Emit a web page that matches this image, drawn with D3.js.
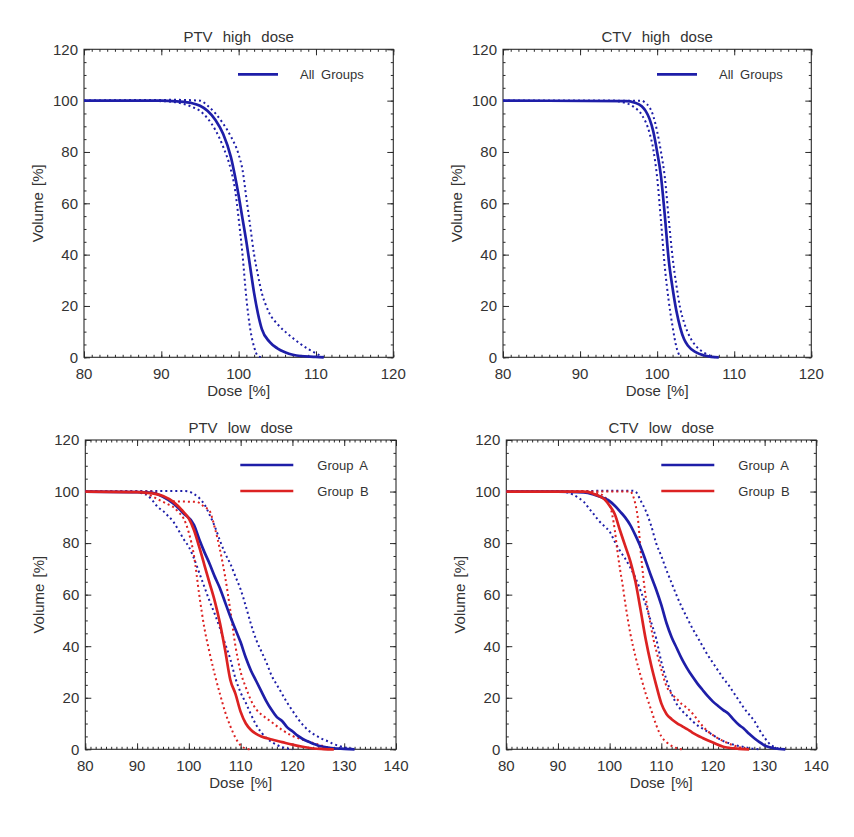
<!DOCTYPE html>
<html>
<head>
<meta charset="utf-8">
<script src="https://cdn.jsdelivr.net/npm/d3@7"></script>
<style>
  html, body { margin: 0; padding: 0; background: #fff; }
  svg { display: block; }
  text { font-family: "Liberation Sans", Arial, sans-serif; fill: #333; }
</style>
</head>
<body>
<svg id="chart" width="854" height="837"></svg>
<script>
// ---------------- DATA (dose %, volume %) ----------------
const panelTitles = ["PTV high dose", "CTV high dose", "PTV low dose", "CTV low dose"];
const seriesNames = ["All Groups", "Group A", "Group B"];
const xTicksHigh = [80, 90, 100, 110, 120];
const xTicksLow = [80, 90, 100, 110, 120, 130, 140];
const yTicks = [0, 20, 40, 60, 80, 100, 120];

// PTV high dose - all groups
const ptvHighMean = [[80,100],[90,100],[92,99.7],[94,99],[95,98],[96,96],[97,92.5],[98,87],[99,78],[99.5,71],[100,63],[100.5,54],[101,45],[101.5,35],[102,25],[102.5,17],[103,11],[104,6],[105,3.5],[106,2],[107,1],[108,0.5],[110,0.2],[111,0]];
const ptvHighUpper = [[80,100],[92,100.3],[95,100],[96,98],[97,95],[98,91],[99,86],[100,79],[100.5,73],[101,62],[101.5,51],[102,40],[102.5,32],[103,25],[103.5,20.5],[104,17],[105,13],[106,10],[107,7.5],[108,5.2],[109,3.2],[110,1.5],[111,0]];
const ptvHighLower = [[80,100],[90,99.8],[92,99.3],[94,97.5],[95,96],[96,93],[97,88.5],[98,82],[99,73],[99.5,66],[100,54],[100.5,40],[101,23],[101.5,11],[102,4],[102.5,0.5],[103,0]];

// CTV high dose - all groups
const ctvHighMean = [[80,100],[96,99.8],[97,99.3],[98,97.8],[98.5,96],[99,93],[99.5,88],[100,80],[100.5,70.5],[101,55],[101.5,38],[102,27],[102.5,18],[103,11.5],[103.5,7],[104,4.5],[105,2],[106,0.8],[107,0.2],[108,0]];
const ctvHighUpper = [[80,100],[98,100],[98.5,99],[99,97.5],[99.5,94],[100,88],[100.5,80],[101,70],[101.5,54],[102,39],[102.5,28],[103,19],[103.5,13.5],[104,9.5],[105,4.5],[106,2],[107,0.5],[107.5,0]];
const ctvHighLower = [[80,100],[94,100],[96,99],[97,97.5],[98,94.5],[99,87.5],[99.5,81],[100,70],[100.5,53],[101,35],[101.5,22],[102,12],[102.5,4],[103,0]];

// PTV low dose - group A
const ptvLowAMean = [[80,100],[90,99.8],[93,99.5],[95,98],[97,95.4],[99,91.5],[101,87],[102,81.5],[103,76.5],[104,72],[105,67],[106,62.5],[107,57],[108,51.5],[109,46.5],[110,41.5],[111,35.5],[112,30.5],[113,26.5],[114,22.5],[115,18.5],[116,15.2],[117,12.5],[118,11],[119,8.5],[120,7],[121,5.3],[122,4],[123,3],[124,2.2],[125,1.4],[126,1],[128,0.4],[130,0.2],[132,0]];
const ptvLowAUpper = [[80,100],[92,100.2],[99,100.2],[100,100],[101,99],[102,97.5],[103,95],[104,91],[105,86.5],[106,81],[107,76],[108,72],[109,67],[110,62],[111,55.5],[112,48.5],[113,42.5],[114,38],[115,33.5],[116,28.5],[117,25],[118,21.5],[119,18],[120,15],[121,12],[122,9.5],[123,7.5],[124,6],[125,4.8],[126,3.8],[127,3],[128,2],[130,0.8],[132,0]];
const ptvLowALower = [[80,100],[90,99.8],[91,99.3],[92,98.5],[93,96.5],[94,94],[95,92.5],[96,90.5],[97,88.3],[98,85],[99,81.5],[100,78.5],[101,74],[102,68.5],[103,63],[104,57.5],[105,52.5],[106,47],[107,41],[108,35],[109,27.5],[110,22],[111,18],[112,13.5],[113,9.5],[114,6.5],[115,4.3],[116,2.8],[117,1.7],[118,0.8],[119,0.3],[120,0]];
// PTV low dose - group B
const ptvLowBMean = [[80,100],[90,99.8],[93,99.3],[95,98.3],[97,96],[99,92],[100,89.5],[101,85],[102,78.5],[103,71.5],[104,64.5],[105,57.5],[106,49],[107,38.5],[108,27],[109,21.5],[110,14.5],[111,10],[112,7.5],[113,6],[114,5],[116,3.8],[118,2.8],[120,1.8],[122,1],[124,0.3],[126,0.1],[128,0]];
const ptvLowBUpper = [[80,100],[93,100],[95,98],[97,96.2],[101.5,96],[103,94],[104,92.5],[105,86],[106,77.5],[107,67],[108,54],[109,40],[110,30],[111,24],[112,19],[113,15.5],[114,13.5],[115,12],[116,10.5],[118,7.5],[120,5.2],[122,3.7],[124,2.5],[126,1.2],[128,0.3],[129,0]];
const ptvLowBLower = [[80,100],[90,99.8],[92,99],[94,97],[96,95],[97,94],[98,92],[99,89.5],[100,84],[101,75],[102,60],[103,47],[104,37.5],[105,29],[106,21.5],[107,14.5],[108,9],[109,4.5],[110,1.5],[111,0.3],[112,0]];

// CTV low dose - group A
const ctvLowAMean = [[80,100],[90,100],[95,99.7],[97,98.8],[99,97.3],[100,96.3],[101,94.5],[102,92.3],[103,90],[104,87],[105,83],[106,78.5],[107,73],[108,67.3],[109,62],[110,56],[111,49],[112,43.5],[113,39.2],[114,35],[115,31.4],[116,28.3],[117,25.5],[118,23],[119,20.6],[120,18.5],[121,16.8],[122,15.2],[123,13.8],[124,11.5],[125,9.5],[126,8],[127,6],[128,4.3],[129,2.8],[130,1.5],[131,0.8],[132,0.3],[134,0]];
const ctvLowAUpper = [[80,100],[104.5,100.3],[105,100],[106,96.5],[107,92.5],[108,87],[109,80],[110,75],[111,69.5],[112,64.5],[113,59.5],[114,55],[115,51],[116,47],[117,43.5],[118,40],[119,36.5],[120,33.5],[121,30.5],[122,27.5],[123,25],[124,22],[125,19],[126,16],[127,13.5],[128,11],[129,7.5],[130,4.5],[131,2],[132,0.8],[133,0]];
const ctvLowALower = [[80,100],[90,100],[92,99.6],[93,98.7],[94,97.5],[95,96],[96,93.5],[97,91],[98,88.5],[99,86.5],[100,84.5],[101,80.5],[102,77],[103,74],[104,70.5],[105,66.5],[106,61.5],[107,56],[108,49.5],[109,43],[110,34],[111,27],[112,21.5],[113,17.5],[114,15],[115,13],[116,11],[117,9.3],[118,8],[119,6.8],[120,5.5],[122,3.2],[124,1.8],[126,0.9],[128,0.2],[129,0]];
// CTV low dose - group B
const ctvLowBMean = [[80,100],[95,100],[96,99.8],[97,99],[98,98.2],[99,97],[100,94.5],[101,91.2],[102,85],[103,79],[104,73],[105,65],[106,54],[107,42.5],[108,33],[109,25],[110,17.8],[111,13.7],[112,11.7],[113,10.2],[114,9],[115,7.8],[116,6.5],[118,4.4],[120,2.6],[122,1],[123,0.6],[125,0.2],[127,0]];
const ctvLowBUpper = [[80,100],[104,100],[104.5,98.5],[105,95],[105.5,89],[106,77],[106.5,67],[107,59],[107.5,53],[108,47.5],[108.5,42.5],[109,38.5],[110,31],[111,24.5],[112,21.5],[113,19.5],[114,17.5],[115,16],[116,14],[117,11.5],[118,9],[119,7],[120,5.5],[121,4.2],[122,3.2],[124,1.5],[126,0.4],[127,0]];
const ctvLowBLower = [[80,100],[95,100],[97,99.6],[98,99.2],[99,98],[100,95],[100.5,91],[101,85],[101.5,77],[102,70],[102.5,64],[103,57],[104,45],[105,36],[106,28.5],[107,21.5],[108,15.5],[109,9.5],[110,5],[111,2.8],[112,1.3],[113,0.4],[114,0]];

// ---------------- LAYOUT ----------------
const BLUE = "#1e1ea8", RED = "#dc2222";

const panels = [
  { title: panelTitles[0], box: [84, 49.3, 393.3, 357.3], xTicks: xTicksHigh,
    groups: [{ name: seriesNames[0], color: BLUE, mean: ptvHighMean, upper: ptvHighUpper, lower: ptvHighLower }],
    legend: { x1: 154, x2: 194, tx: 216, y0: 25 } },
  { title: panelTitles[1], box: [503, 49.3, 811.3, 357.3], xTicks: xTicksHigh,
    groups: [{ name: seriesNames[0], color: BLUE, mean: ctvHighMean, upper: ctvHighUpper, lower: ctvHighLower }],
    legend: { x1: 154, x2: 194, tx: 216, y0: 25 } },
  { title: panelTitles[2], box: [85.3, 440, 396, 749.3], xTicks: xTicksLow,
    groups: [
      { name: seriesNames[1], color: BLUE, mean: ptvLowAMean, upper: ptvLowAUpper, lower: ptvLowALower },
      { name: seriesNames[2], color: RED, mean: ptvLowBMean, upper: ptvLowBUpper, lower: ptvLowBLower }],
    legend: { x1: 155, x2: 208, tx: 232, y0: 25 } },
  { title: panelTitles[3], box: [506.3, 440, 816.3, 749.3], xTicks: xTicksLow,
    groups: [
      { name: seriesNames[1], color: BLUE, mean: ctvLowAMean, upper: ctvLowAUpper, lower: ctvLowALower },
      { name: seriesNames[2], color: RED, mean: ctvLowBMean, upper: ctvLowBUpper, lower: ctvLowBLower }],
    legend: { x1: 155, x2: 208, tx: 232, y0: 25 } }
];

const svg = d3.select("#chart");
const AX = "#2a2a2a";

panels.forEach(p => {
  const [L, T, R, B] = p.box;
  const xMin = p.xTicks[0], xMax = p.xTicks[p.xTicks.length - 1];
  const x = d3.scaleLinear().domain([xMin, xMax]).range([L, R]);
  const y = d3.scaleLinear().domain([0, 120]).range([B, T]);
  const g = svg.append("g");

  const xMinor = d3.range(xMin, xMax + 0.001, 1);
  const yMinor = d3.range(0, 120.001, 5);

  const mkX = (axisFn, ticks, len) => axisFn(x).tickValues(ticks).tickSize(len).tickSizeOuter(0);
  const mkY = (axisFn, ticks, len) => axisFn(y).tickValues(ticks).tickSize(len).tickSizeOuter(0);

  g.append("g").attr("transform", `translate(0,${B})`)
    .call(mkX(d3.axisTop, xMinor, 2.5).tickFormat(""));
  g.append("g").attr("transform", `translate(0,${B})`)
    .call(mkX(d3.axisTop, p.xTicks, 6).tickFormat(""));
  g.append("g").attr("transform", `translate(0,${T})`)
    .call(mkX(d3.axisBottom, xMinor, 2.5).tickFormat(""));
  g.append("g").attr("transform", `translate(0,${T})`)
    .call(mkX(d3.axisBottom, p.xTicks, 6).tickFormat(""));
  g.append("g").attr("transform", `translate(${L},0)`)
    .call(mkY(d3.axisRight, yMinor, 2.5).tickFormat(""));
  g.append("g").attr("transform", `translate(${L},0)`)
    .call(mkY(d3.axisRight, yTicks, 6).tickFormat(""));
  g.append("g").attr("transform", `translate(${R},0)`)
    .call(mkY(d3.axisLeft, yMinor, 2.5).tickFormat(""));
  g.append("g").attr("transform", `translate(${R},0)`)
    .call(mkY(d3.axisLeft, yTicks, 6).tickFormat(""));
  g.selectAll(".domain").remove();
  g.selectAll(".tick line").attr("stroke", AX).attr("stroke-width", 1);

  g.append("rect").attr("x", L).attr("y", T).attr("width", R - L).attr("height", B - T)
    .attr("fill", "none").attr("stroke", AX).attr("stroke-width", 1.1);

  g.selectAll(".xl").data(p.xTicks).enter().append("text")
    .attr("x", d => x(d)).attr("y", B + 21.5).attr("text-anchor", "middle")
    .attr("font-size", 15).text(d => d);
  g.selectAll(".yl").data(yTicks).enter().append("text")
    .attr("x", L - 6).attr("y", d => y(d) + 5.3).attr("text-anchor", "end")
    .attr("font-size", 15).text(d => d);

  g.append("text").attr("x", (L + R) / 2).attr("y", T - 7).attr("text-anchor", "middle")
    .attr("font-size", 15).attr("word-spacing", 6).text(p.title);
  g.append("text").attr("x", (L + R) / 2).attr("y", B + 39).attr("text-anchor", "middle")
    .attr("font-size", 15).attr("word-spacing", 2).text("Dose [%]");
  g.append("text").attr("transform", `translate(${L - 41.5},${(T + B) / 2}) rotate(-90)`)
    .attr("text-anchor", "middle").attr("font-size", 15).attr("word-spacing", 2).text("Volume [%]");

  const line = d3.line().x(d => x(d[0])).y(d => y(d[1])).curve(d3.curveMonotoneX);
  p.groups.forEach(gr => {
    ["lower", "upper"].forEach(k => {
      g.append("path").attr("d", line(gr[k])).attr("fill", "none")
        .attr("stroke", gr.color).attr("stroke-width", 2)
        .attr("stroke-dasharray", "2,3");
    });
  });
  p.groups.forEach(gr => {
    g.append("path").attr("d", line(gr.mean)).attr("fill", "none")
      .attr("stroke", gr.color).attr("stroke-width", 2.7).attr("stroke-linejoin", "round");
  });

  p.groups.forEach((gr, i) => {
    const ly = T + p.legend.y0 + i * 26;
    g.append("line").attr("x1", L + p.legend.x1).attr("x2", L + p.legend.x2)
      .attr("y1", ly).attr("y2", ly).attr("stroke", gr.color).attr("stroke-width", 2.7);
    g.append("text").attr("x", L + p.legend.tx).attr("y", ly + 4.5)
      .attr("font-size", 13).attr("word-spacing", 3).text(gr.name);
  });
});
</script>
</body>
</html>
